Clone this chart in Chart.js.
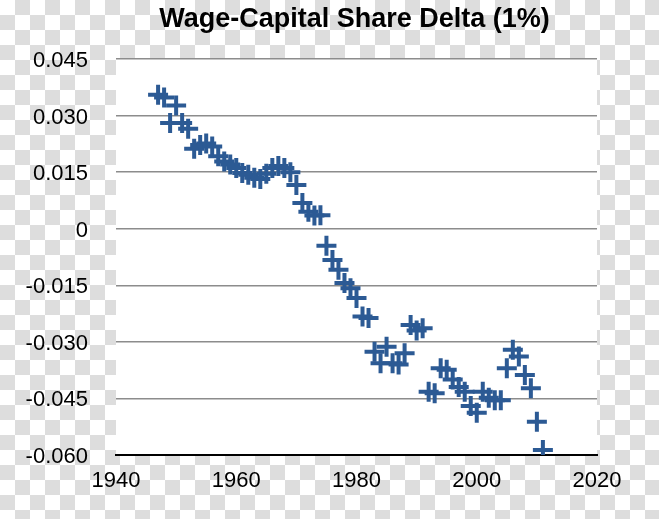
<!DOCTYPE html>
<html lang="en">
<head>
<meta charset="UTF-8">
<title>Wage-Capital Share Delta (1%)</title>
<script src="https://cdn.jsdelivr.net/npm/chart.js"></script>
<style>
body {
  margin: 0; padding: 0;
  background: repeating-conic-gradient(#dddddd 0% 25%, #ffffff 0% 50%) 0 0 / 30px 30px;
}
canvas { display: block; }
</style>
</head>
<body>
<canvas id="chart" width="659" height="519"></canvas>

<script>
const years = [
  1947, 1948, 1949, 1950, 1951, 1952, 1953, 1954, 1955, 1956,
  1957, 1958, 1959, 1960, 1961, 1962, 1963, 1964, 1965, 1966,
  1967, 1968, 1969, 1970, 1971, 1972, 1973, 1974, 1975, 1976,
  1977, 1978, 1979, 1980, 1981, 1982, 1983, 1984, 1985, 1986,
  1987, 1988, 1989, 1990, 1991, 1992, 1993, 1994, 1995, 1996,
  1997, 1998, 1999, 2000, 2001, 2002, 2003, 2004, 2005, 2006,
  2007, 2008, 2009, 2010, 2011
];
const delta = [
  0.0355, 0.0348, 0.0280, 0.0327, 0.0280, 0.0265, 0.0212, 0.0222, 0.0226, 0.0218,
  0.0192, 0.0178, 0.0170, 0.0161, 0.0148, 0.0143, 0.0135, 0.0132, 0.0146, 0.0161,
  0.0166, 0.0161, 0.0150, 0.0116, 0.0068, 0.0045, 0.0035, 0.0036, -0.0045, -0.0083,
  -0.0109, -0.0144, -0.0158, -0.0184, -0.0233, -0.0237, -0.0326, -0.0357, -0.0313, -0.0357,
  -0.0360, -0.0330, -0.0255, -0.0270, -0.0264, -0.0432, -0.0436, -0.0370, -0.0374, -0.0400,
  -0.0420, -0.0432, -0.0470, -0.0488, -0.0432, -0.0448, -0.0455, -0.0455, -0.0370, -0.0321,
  -0.0339, -0.0388, -0.0423, -0.0512, -0.0587
];
const xTicks = [1940, 1960, 1980, 2000, 2020];
const yTicks = [0.045, 0.030, 0.015, 0, -0.015, -0.030, -0.045, -0.060];
const yTickLabels = ['0.045', '0.030', '0.015', '0', '-0.015', '-0.030', '-0.045', '-0.060'];
const chartTitle = 'Wage-Capital Share Delta (1%)';

const fontFamily = "'Liberation Sans', Arial, Helvetica, sans-serif";

// white plot area over the checkered page, title centred on the plot
const plotArea = {
  id: 'plotArea',
  beforeDraw(chart) {
    const a = chart.chartArea, ctx = chart.ctx;
    ctx.save();
    ctx.fillStyle = '#ffffff';
    ctx.fillRect(a.left, a.top, a.right - a.left, a.bottom - a.top);
    ctx.restore();
  },
  afterDraw(chart) {
    const a = chart.chartArea, ctx = chart.ctx;
    ctx.save();
    ctx.fillStyle = '#000000';
    ctx.font = 'bold 27px ' + fontFamily;
    ctx.textAlign = 'center';
    ctx.textBaseline = 'middle';
    ctx.fillText(chartTitle, (a.left + a.right) / 2 - 2, 20);
    ctx.restore();
  }
};

new Chart(document.getElementById('chart'), {
  type: 'scatter',
  data: {
    datasets: [{
      data: years.map((y, i) => ({ x: y, y: delta[i] })),
      pointStyle: 'cross',
      pointRadius: 10,
      pointHoverRadius: 10,
      borderWidth: 4,
      borderColor: '#2c5a94',
      backgroundColor: '#2c5a94'
    }]
  },
  options: {
    responsive: false,
    animation: false,
    layout: { padding: { top: 59, right: 62, bottom: 0, left: 0 } },
    plugins: {
      legend: { display: false },
      tooltip: { enabled: false },
      title: { display: false }
    },
    scales: {
      x: {
        type: 'linear',
        min: 1940, max: 2020,
        afterBuildTicks: s => { s.ticks = xTicks.map(v => ({ value: v })); },
        afterFit: s => { s.height = 64; },
        grid: { display: false },
        border: { display: true, color: '#000000', width: 2 },
        ticks: {
          color: '#000000',
          padding: 5,
          maxRotation: 0,
          font: { family: fontFamily, size: 22 },
          callback: v => String(v)
        }
      },
      y: {
        min: -0.06, max: 0.045,
        afterBuildTicks: s => { s.ticks = yTicks.map(v => ({ value: v })); },
        afterFit: s => { s.width = 116; },
        grid: { color: '#8c8c8c', lineWidth: 1.5, drawTicks: false },
        border: { display: false },
        ticks: {
          color: '#000000',
          padding: 28,
          labelOffset: 2,
          font: { family: fontFamily, size: 22 },
          callback: (v, i) => yTickLabels[i]
        }
      }
    }
  },
  plugins: [plotArea]
});
</script>
</body>
</html>
